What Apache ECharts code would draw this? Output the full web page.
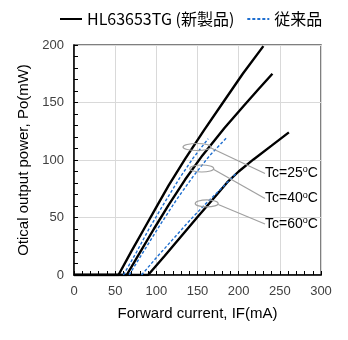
<!DOCTYPE html>
<html>
<head>
<meta charset="utf-8">
<script src="https://cdn.jsdelivr.net/npm/echarts@6/dist/echarts.min.js"></script>
<style>
html,body{margin:0;padding:0;background:#fff;}
#chart{width:348px;height:340px;}
</style>
</head>
<body>
<div id="chart"></div>
<script>
// ---- data ----
const nameNew = 'HL63653TG (新製品)';
const nameOld = '従来品';
const xMin = 0, xMax = 300, xStep = 50;
const yMin = 0, yMax = 200, yStep = 50;

const cur25New = [0, 54, 70, 85, 100, 115, 135, 158, 181, 205, 230];
const po25New  = [0, 0, 21, 40, 59, 78, 101, 126, 150, 175, 199];
const cur40New = [0, 64, 80, 97, 115, 135, 156, 183, 206, 224, 241];
const po40New  = [0, 0, 19.5, 40, 61, 83, 104, 128, 147, 161.5, 175];
const cur60New = [0, 90, 110, 130, 150, 170, 186, 200, 218, 240, 261];
const po60New  = [0, 0, 16.5, 33.5, 50.5, 67, 80.5, 90, 100.5, 112.5, 124];

const cur25Old = [60, 76, 91, 110, 128, 145, 163];
const po25Old  = [0, 20, 40, 63, 84, 102, 118.5];
const cur40Old = [67, 85, 105, 125, 145, 165, 185.5];
const po40Old  = [0, 21, 44, 66, 86, 104, 119.5];
const cur60Old = [82, 100, 120, 140, 160, 180, 198];
const po60Old  = [0, 15, 31, 47, 62, 76, 89];

// annotation anchors (data units)
const tcTemps   = ['25', '40', '60'];
const ringIF    = [149.4, 155.2, 161.2];
const ringPo    = [111.3, 92.6, 62.2];
const labelIF   = [232, 232, 232];
const labelPo   = [88.3, 66.5, 44.3];

function zip(a, b) { return a.map((v, i) => [v, b[i]]); }

const chart = echarts.init(document.getElementById('chart'));

const newStyle = { color: '#000000', width: 2.4 };
const oldStyle = { color: '#1f6fd0', width: 1.4, type: [3, 2] };

function lineSeries(name, data, style) {
  return {
    name: name, type: 'line', data: data, symbol: 'none',
    smooth: false,
    lineStyle: style, itemStyle: { color: style.color },
    emphasis: { disabled: true }, z: style.type ? 3 : 2
  };
}

const annoData = tcTemps.map((t, i) => [ringIF[i], ringPo[i], labelIF[i], labelPo[i], i]);

const option = {
  animation: false,
  backgroundColor: '#ffffff',
  legend: {
    data: [nameNew, nameOld],
    left: 54, top: 6,
    itemWidth: 22, itemHeight: 14, itemGap: 12,
    itemStyle: { opacity: 0 },
    textStyle: { fontFamily: 'Noto Sans CJK JP', fontSize: 16, color: '#000' }
  },
  grid: {
    left: 74, right: 27, top: 45, bottom: 65,
    show: true, borderColor: '#555', borderWidth: 1.5
  },
  xAxis: {
    type: 'value', min: xMin, max: xMax, interval: xStep,
    name: 'Forward current, IF(mA)', nameLocation: 'middle', nameGap: 31,
    nameTextStyle: { fontFamily: 'Liberation Sans', fontSize: 15, color: '#000' },
    axisLine: { lineStyle: { color: '#000', width: 1.5 } },
    axisTick: { show: true, inside: true, length: 4, lineStyle: { color: '#000' } },
    minorTick: { show: true, splitNumber: 5, length: 4, lineStyle: { color: '#000' } },
    axisLabel: { fontFamily: 'Liberation Sans', fontSize: 13, color: '#404040', margin: 10 },
    splitLine: { show: true, lineStyle: { color: '#d9d9d9', width: 1 } }
  },
  yAxis: {
    type: 'value', min: yMin, max: yMax, interval: yStep,
    name: 'Otical output power, Po(mW)', nameLocation: 'middle', nameGap: 37,
    nameTextStyle: { fontFamily: 'Liberation Sans', fontSize: 15, color: '#000' },
    axisLine: { show: true, lineStyle: { color: '#000', width: 1.5 } },
    axisTick: { show: true, inside: true, length: 4, lineStyle: { color: '#000' } },
    minorTick: { show: true, splitNumber: 5, length: 4, lineStyle: { color: '#000' } },
    axisLabel: { fontFamily: 'Liberation Sans', fontSize: 13, color: '#404040', margin: 10 },
    splitLine: { show: true, lineStyle: { color: '#d9d9d9', width: 1 } }
  },
  series: [
    lineSeries(nameNew, zip(cur25New, po25New), newStyle),
    lineSeries(nameNew, zip(cur40New, po40New), newStyle),
    lineSeries(nameNew, zip(cur60New, po60New), newStyle),
    lineSeries(nameOld, zip(cur25Old, po25Old), oldStyle),
    lineSeries(nameOld, zip(cur40Old, po40Old), oldStyle),
    lineSeries(nameOld, zip(cur60Old, po60Old), oldStyle),
    {
      type: 'custom', silent: true, clip: false, z: 5,
      data: annoData,
      renderItem: function (params, api) {
        const i = api.value(4);
        const c = api.coord([api.value(0), api.value(1)]);
        const l = api.coord([api.value(2), api.value(3)]);
        const rx = [14, 12, 11.5][i], ry = 3.5;
        const path = 'M' + (c[0] - rx) + ' ' + c[1] +
          ' A' + rx + ' ' + ry + ' 0 1 0 ' + (c[0] + rx) + ' ' + c[1] +
          ' A' + rx + ' ' + ry + ' 0 1 0 ' + (c[0] - rx) + ' ' + c[1] + ' Z';
        return {
          type: 'group',
          children: [
            { type: 'path', shape: { pathData: path },
              style: { fill: null, stroke: '#a0a0a0', lineWidth: 1.2 } },
            { type: 'line', shape: { x1: c[0] + rx, y1: c[1] + 1, x2: l[0], y2: l[1] },
              style: { stroke: '#a0a0a0', lineWidth: 1.2 } },
            { type: 'text', x: l[0], y: l[1],
              style: {
                text: '{a|Tc=' + tcTemps[i] + '}{s|o}{a|C}',
                verticalAlign: 'middle', align: 'left',
                rich: {
                  a: { fontFamily: 'Liberation Sans', fontSize: 14, fill: '#000' },
                  s: { fontFamily: 'Liberation Sans', fontSize: 9, fill: '#000', padding: [0, 0, 7, 0] }
                }
              } }
          ]
        };
      }
    }
  ]
};
chart.setOption(option);
</script>
</body>
</html>
